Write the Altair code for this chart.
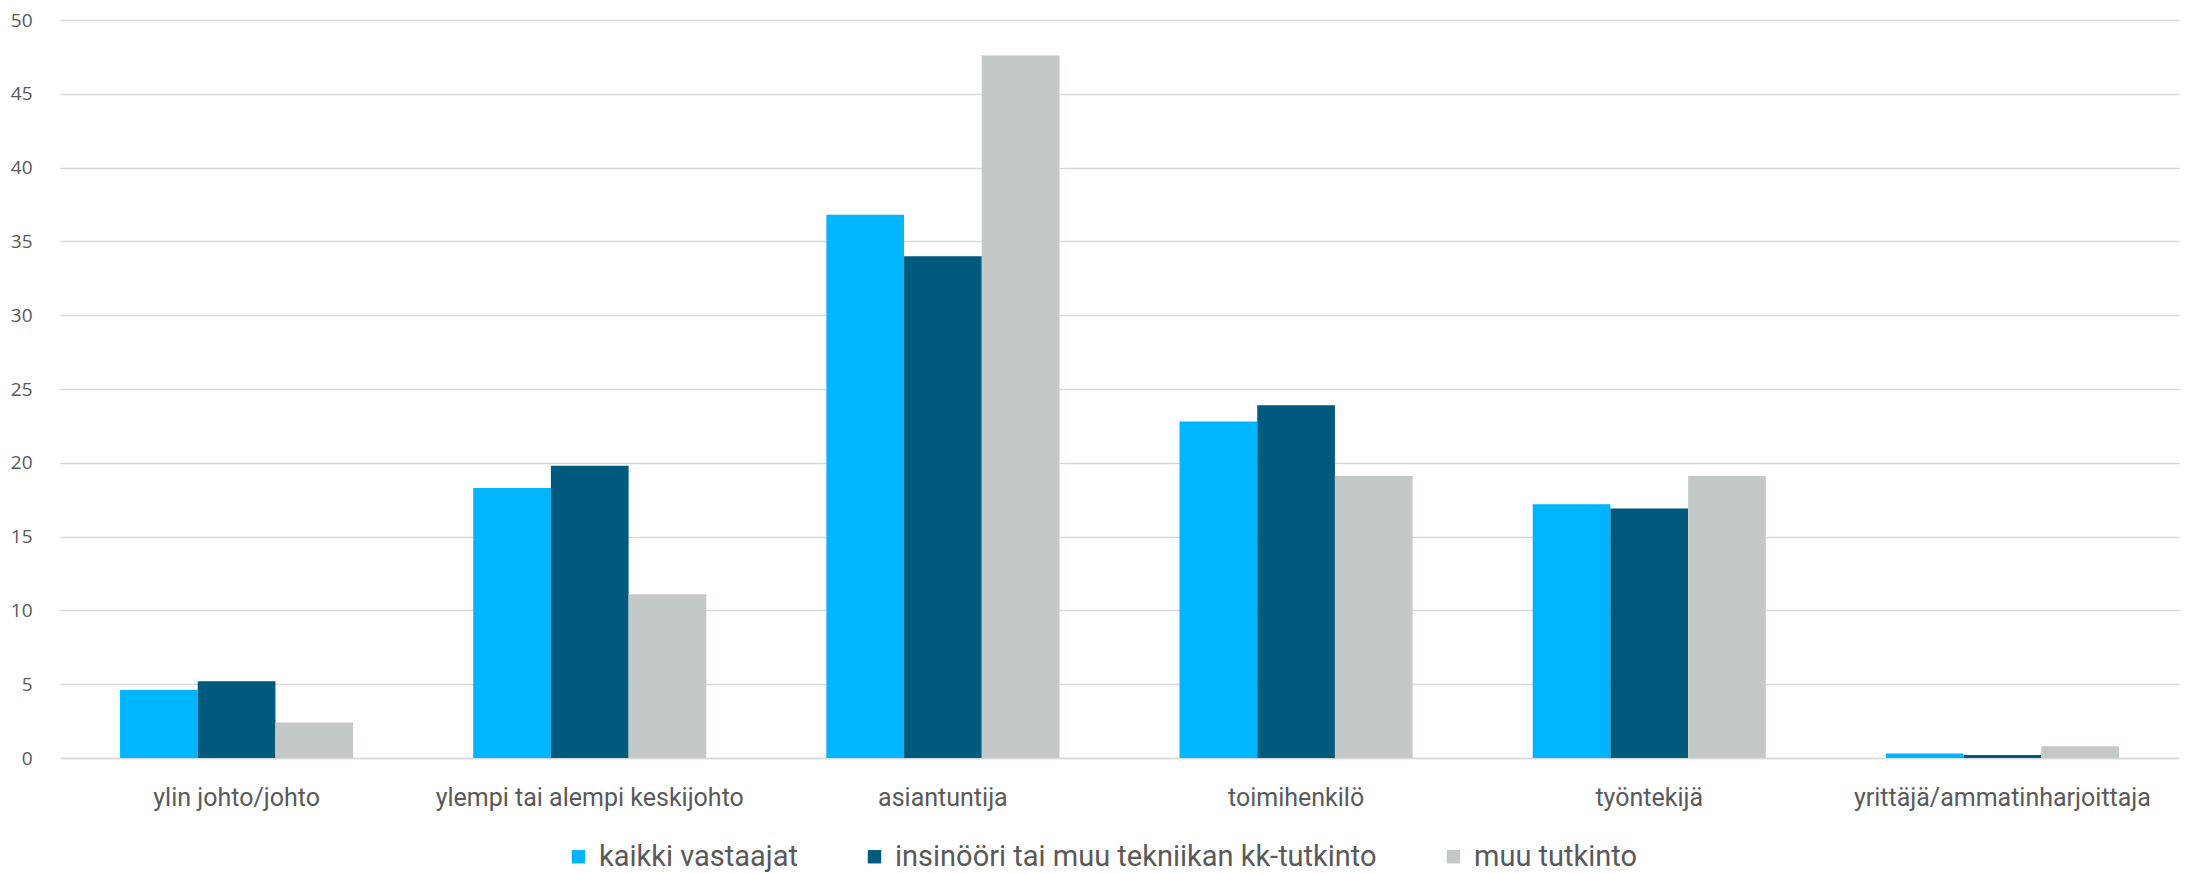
import altair as alt
import pandas as pd

categories = ["ylin johto/johto", "ylempi tai alempi keskijohto", "asiantuntija",
              "toimihenkilö", "työntekijä", "yrittäjä/ammatinharjoittaja"]
series = ["kaikki vastaajat", "insinööri tai muu tekniikan kk-tutkinto", "muu tutkinto"]
kaikki = [4.6, 18.3, 36.8, 22.8, 17.2, 0.3]
insinoori = [5.2, 19.8, 34.0, 23.9, 16.9, 0.2]
muu = [2.4, 11.1, 47.6, 19.1, 19.1, 0.8]
colors = ["#00B5FF", "#005A7E", "#C3C9C9"]

rows = []
for vals, s in zip([kaikki, insinoori, muu], series):
    for c, v in zip(categories, vals):
        rows.append({"kategoria": c, "sarja": s, "arvo": v})
df = pd.DataFrame(rows)

font_lbl = "Roboto"

chart = alt.Chart(df).mark_bar().encode(
    x=alt.X("kategoria:N", sort=categories, title=None,
            scale=alt.Scale(paddingInner=0.34, paddingOuter=0.17),
            axis=alt.Axis(labelAngle=0, labelFont=font_lbl, labelFontSize=25,
                          labelColor="#595959", ticks=False, domain=True,
                          domainColor="#D9D9D9", domainWidth=1.5, labelPadding=27,
                          labelLimit=600)),
    xOffset=alt.XOffset("sarja:N", sort=series),
    y=alt.Y("arvo:Q", title=None,
            scale=alt.Scale(domain=[0, 50]),
            axis=alt.Axis(values=list(range(0, 51, 5)), labelFont="Open Sans",
                          labelFontSize=19, labelColor="#595959", ticks=False,
                          domain=False, gridColor="#D9D9D9", gridWidth=1.5,
                          labelPadding=28)),
    color=alt.Color("sarja:N", sort=series,
                    scale=alt.Scale(domain=series, range=colors),
                    legend=alt.Legend(title=None, orient="none", direction="horizontal",
                                      legendX=504, legendY=822,
                                      symbolType="square", symbolSize=180,
                                      symbolStrokeWidth=0, labelOffset=6,
                                      labelFont=font_lbl, labelFontSize=29,
                                      labelColor="#595959", columnPadding=62,
                                      labelLimit=700)),
).properties(
    width=2119, height=738,
    autosize=alt.AutoSizeParams(type="none"),
    padding={"left": 52, "top": 12, "right": 3, "bottom": 116},
).configure_view(stroke=None)

chart.save("out.html", embed_options={"renderer": "svg", "actions": False})
